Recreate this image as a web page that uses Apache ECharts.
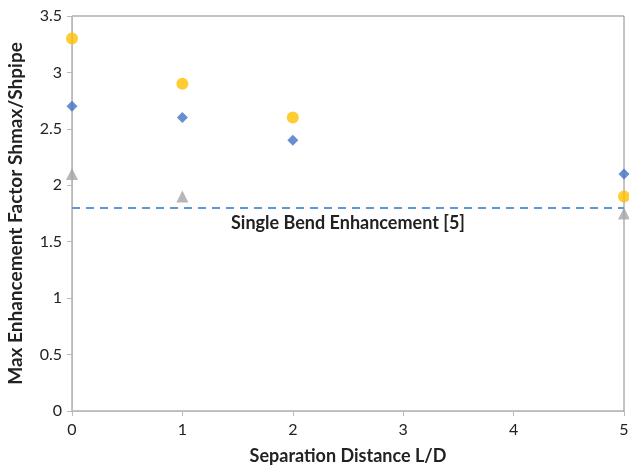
<!DOCTYPE html>
<html>
<head>
<meta charset="utf-8">
<script src="https://cdn.jsdelivr.net/npm/echarts@6/dist/echarts.min.js"></script>
<style>
  html, body { margin: 0; padding: 0; background: #fff; }
  #chart { width: 629px; height: 468px; }
</style>
</head>
<body>
<div id="chart"></div>
<script>
// values
const xTicks = [0, 1, 2, 3, 4, 5];
const orangeX = [0, 1, 2, 5];
const orangeY = [3.3, 2.9, 2.6, 1.9];
const blueX = [0, 1, 2, 5];
const blueY = [2.7, 2.6, 2.4, 2.1];
const grayX = [0, 1, 5];
const grayY = [2.1, 1.9, 1.75];
const singleBend = 1.8;
const singleBendLabel = 'Single Bend Enhancement [5]';

const pairs = (xs, ys) => xs.map((x, i) => [x, ys[i]]);
const font = 'Lato, "Open Sans", sans-serif';

const chart = echarts.init(document.getElementById('chart'));
chart.setOption({
    animation: false,
    textStyle: { fontFamily: font },
    grid: {
        left: 72, right: 5, top: 16, bottom: 57,
        outerBoundsMode: 'none', containLabel: false,
        show: true, borderColor: '#888', borderWidth: 1
    },
    xAxis: {
        type: 'value', min: xTicks[0], max: xTicks[xTicks.length - 1], interval: 1,
        name: 'Separation Distance L/D',
        nameLocation: 'middle', nameGap: 36,
        nameTextStyle: { fontSize: 18, fontWeight: 'bold', color: '#222', fontFamily: font },
        axisLine: { lineStyle: { color: '#bbb' } },
        axisTick: { show: true, length: 5, lineStyle: { color: '#bbb' } },
        axisLabel: { fontSize: 16, color: '#222', margin: 11 },
        splitLine: { show: false }
    },
    yAxis: {
        type: 'value', min: 0, max: 3.5, interval: 0.5,
        name: 'Max Enhancement Factor Shmax/Shpipe',
        nameLocation: 'middle', nameGap: 47,
        nameTextStyle: { fontSize: 19, fontWeight: 'bold', color: '#222', fontFamily: font },
        axisLine: { show: true, lineStyle: { color: '#bbb' } },
        axisTick: { show: true, length: 5, lineStyle: { color: '#bbb' } },
        axisLabel: { fontSize: 16, color: '#222', margin: 10 },
        splitLine: { show: false }
    },
    series: [
        {
            type: 'scatter', name: 'orange',
            data: pairs(orangeX, orangeY),
            symbol: 'circle', symbolSize: 12,
            itemStyle: { color: '#FFC000' },
            markLine: {
                silent: true, symbol: 'none',
                lineStyle: { color: '#5B9BD5', type: [8, 6], width: 2 },
                label: {
                    show: true, position: 'insideMiddleBottom',
                    formatter: singleBendLabel,
                    fontSize: 18, fontWeight: 'bold', color: '#222',
                    fontFamily: font, distance: 6
                },
                data: [{ yAxis: singleBend }]
            }
        },
        {
            type: 'scatter', name: 'blue',
            data: pairs(blueX, blueY),
            symbol: 'diamond', symbolSize: 11,
            itemStyle: { color: '#4472C4' }
        },
        {
            type: 'scatter', name: 'gray',
            data: pairs(grayX, grayY),
            symbol: 'triangle', symbolSize: 12,
            itemStyle: { color: '#A5A5A5' }
        }
    ]
});
</script>
</body>
</html>
